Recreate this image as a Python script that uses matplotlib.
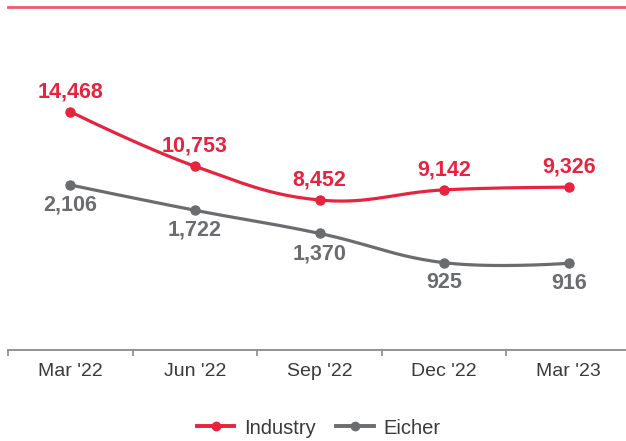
import numpy as np
import matplotlib
matplotlib.use("Agg")
import matplotlib.pyplot as plt
from matplotlib.lines import Line2D

# Quarterly volumes: industry on the left scale, Eicher on a hidden right scale
categories = ["Mar '22", "Jun '22", "Sep '22", "Dec '22", "Mar '23"]
industry = [14468, 10753, 8452, 9142, 9326]
eicher = [2106, 1722, 1370, 925, 916]

RED = "#E8233D"
GREY = "#6B6C6F"
TEXT = "#3A3A3A"

plt.rcParams["font.family"] = ["Liberation Sans", "DejaVu Sans"]


def spline(xs, ys, steps=40):
    # Bezier spline through the points (control points at 0.4 of the gap,
    # tangent parallel to neighbour chord, ends use the point itself)
    xs = np.asarray(xs, float)
    ys = np.asarray(ys, float)
    n = len(xs)
    left = [(xs[i], ys[i]) for i in range(n)]
    right = [(xs[i], ys[i]) for i in range(n)]
    for i in range(1, n - 1):
        dx_l = xs[i] - xs[i - 1]
        dx_r = xs[i + 1] - xs[i]
        dy = ys[i + 1] - ys[i - 1]
        left[i] = (xs[i] - 0.4 * dx_l, ys[i] - 0.2 * dy)
        right[i] = (xs[i] + 0.4 * dx_r, ys[i] + 0.2 * dy)
    t = np.linspace(0, 1, steps)[:, None]
    out = []
    for i in range(n - 1):
        p0 = np.array([xs[i], ys[i]])
        p1 = np.array(right[i])
        p2 = np.array(left[i + 1])
        p3 = np.array([xs[i + 1], ys[i + 1]])
        seg = ((1 - t) ** 3) * p0 + 3 * ((1 - t) ** 2) * t * p1 + 3 * (1 - t) * t ** 2 * p2 + t ** 3 * p3
        out.append(seg if i == 0 else seg[1:])
    pts = np.vstack(out)
    return pts[:, 0], pts[:, 1]


fig = plt.figure(figsize=(6.26, 4.41), dpi=100)
ax = fig.add_axes([8 / 626, 91 / 441, 623 / 626, 343 / 441])
ax2 = ax.twinx()

x = np.arange(len(categories))

# Industry
sx, sy = spline(x, industry)
ax.plot(sx, sy, color=RED, lw=2.3, solid_capstyle="round", zorder=3)
ax.plot(x, industry, "o", color=RED, ms=6.5, zorder=4)
for xi, v in zip(x, industry):
    ax.annotate(f"{v:,}", (xi, v), xytext=(0, 10.5), textcoords="offset points",
                ha="center", va="baseline", color=RED, fontsize=15.5, fontweight="bold")

# Eicher
sx, sy = spline(x, eicher)
ax2.plot(sx, sy, color=GREY, lw=2.3, solid_capstyle="round", zorder=3)
ax2.plot(x, eicher, "o", color=GREY, ms=6.5, zorder=4)
for xi, v in zip(x, eicher):
    ax2.annotate(f"{v:,}", (xi, v), xytext=(0, -7), textcoords="offset points",
                 ha="center", va="top", color=GREY, fontsize=15.5, fontweight="bold")

ax.set_xlim(-0.5, 4.5)
ax.set_ylim(-1767, 21601)
ax2.set_ylim(-402, 4811)

# spines: red line on top, grey baseline
for s in ["left", "right"]:
    ax.spines[s].set_visible(False)
    ax2.spines[s].set_visible(False)
ax2.spines["top"].set_visible(False)
ax2.spines["bottom"].set_visible(False)
ax.spines["top"].set_color("#EE5A6A")
ax.spines["top"].set_linewidth(2)
ax.spines["bottom"].set_color("#8A8A8A")
ax.spines["bottom"].set_linewidth(1.3)

ax.set_yticks([])
ax2.set_yticks([])

# ticks at band edges, labels at band centres
ax.set_xticks(np.arange(-0.5, 5, 1.0))
ax.set_xticklabels([])
ax.tick_params(axis="x", which="major", direction="out", length=4.5, width=1.2, color="#8A8A8A")
ax.set_xticks(x, minor=True)
ax.set_xticklabels(categories, minor=True)
ax.tick_params(axis="x", which="minor", length=0, pad=9, labelsize=14, labelcolor=TEXT)

handles = [
    Line2D([], [], color=RED, lw=2.8, marker="o", ms=6),
    Line2D([], [], color=GREY, lw=2.8, marker="o", ms=6),
]
leg = fig.legend(handles, ["Industry", "Eicher"], loc="center", ncol=2, frameon=False,
                 bbox_to_anchor=(319 / 626, 1 - 428 / 441), fontsize=14.5,
                 handlelength=1.85, handletextpad=0.5, columnspacing=1.0)
for t in leg.get_texts():
    t.set_color(TEXT)

fig.savefig("out.png", dpi=100)
